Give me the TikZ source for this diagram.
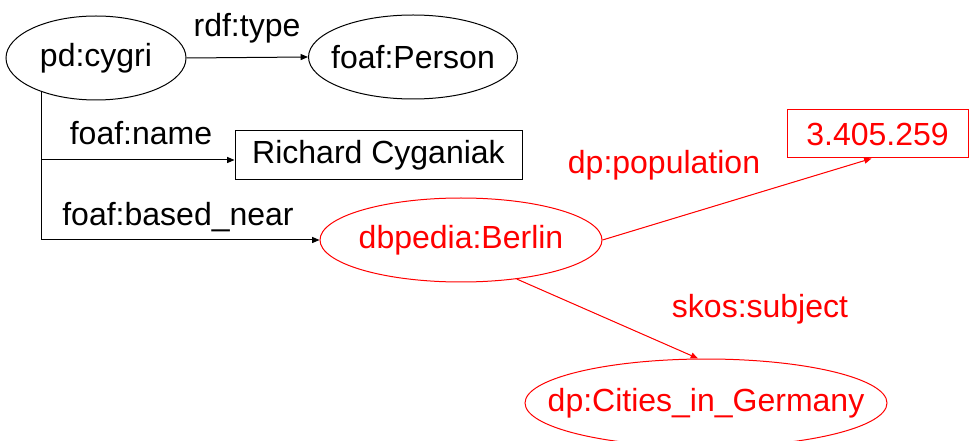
\documentclass[tikz,border=0pt]{standalone}
\usepackage{fontspec}
\setmainfont{Liberation Sans}
\usetikzlibrary{shapes.geometric,arrows.meta}
\definecolor{rdred}{RGB}{255,0,0}
\tikzset{
  every node/.style={font=\fontsize{24}{28}\selectfont, inner sep=0pt},
  ell/.style={draw, ellipse, line width=0.75pt, inner xsep=-40pt, inner ysep=-10pt},
  lit/.style={draw, rectangle, line width=0.75pt},
  conn/.style={line width=0.75pt, -{Triangle[length=5.5pt,width=4.5pt]}},
  plain/.style={line width=0.75pt},
  lbl/.style={},
}
\begin{document}
\begin{tikzpicture}[x=0.75pt,y=-0.75pt]
\useasboundingbox (0,0) rectangle (980,441);
\clip (0,0) rectangle (980,441);
% nodes
\node[ell, minimum width=135pt, minimum height=63pt] (cygri) at (96,58) {pd:cygri};
\node[ell, minimum width=156.75pt, minimum height=63pt] (person) at (413,57) {foaf:Person};
\node[lit, minimum width=215.25pt, minimum height=36.75pt] (name) at (378.5,155.5) {Richard Cyganiak};
\node[ell, draw=rdred, text=rdred, minimum width=211.5pt, minimum height=63pt] (berlin) at (461,240) {dbpedia:Berlin};
\node[lit, draw=rdred, text=rdred, minimum width=135.75pt, minimum height=36pt] (pop) at (877.5,134) {3.405.259};
\node[ell, draw=rdred, text=rdred, minimum width=271.5pt, minimum height=66pt] (cities) at (706,403) {dp:Cities\_in\_Germany};
% labels
\node[lbl] (ltype) at (247,28) {rdf:type};
\node[lbl] (lname) at (141,133) {foaf:name};
\node[lbl] (lnear) at (178,217) {foaf:based\_near};
\node[lbl, text=rdred] (lpop) at (664,165) {dp:population};
\node[lbl, text=rdred] (lsubj) at (760,309) {skos:subject};
% branch coordinates
\coordinate (btop) at (41,91);
\coordinate (bname) at (41,160);
\coordinate (bnear) at (41,240);
% connectors
\draw[conn] (cygri.east) -- (person.west);
\draw[plain] (btop) -- (bnear);
\draw[conn] (bname) -- (bname -| name.west);
\draw[conn] (bnear) -- (berlin.west);
\draw[conn, draw=rdred, fill=rdred] (berlin.east) -- ([xshift=-4.5pt]pop.south);
\draw[conn, draw=rdred, fill=rdred] (berlin.-35) -- ([xshift=-6pt]cities.north);
\end{tikzpicture}
\end{document}
